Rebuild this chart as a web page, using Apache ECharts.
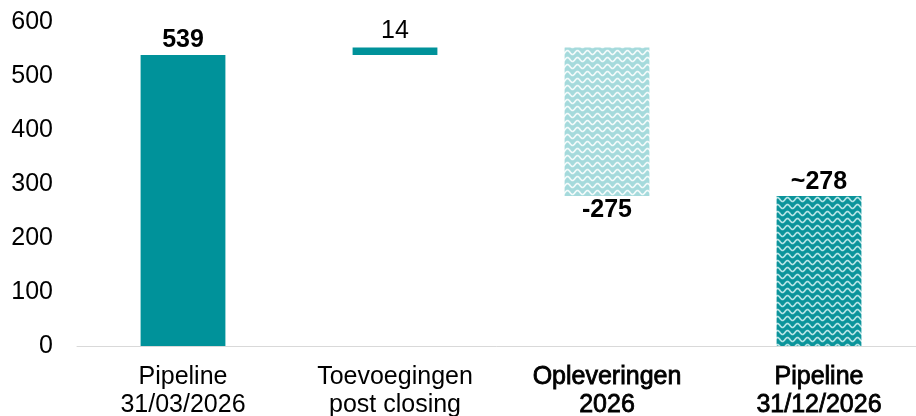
<!DOCTYPE html>
<html>
<head>
<meta charset="utf-8">
<script src="https://cdn.jsdelivr.net/npm/echarts@6/dist/echarts.min.js"></script>
<style>
  html, body { margin: 0; padding: 0; background: #fff; }
  #chart { width: 916px; height: 416px; }
</style>
</head>
<body>
<div id="chart"></div>
<script>
// categories on the x axis
var categories = ['Pipeline\n31/03/2026', 'Toevoegingen\npost closing', 'Opleveringen\n2026', 'Pipeline\n31/12/2026'];
// waterfall steps: start, addition, delivery, end
var stepValues = [539, 14, -275, 278];
// which bars are totals (drawn from zero)
var isTotal = [true, false, false, true];
var labelTexts = ['539', '14', '-275', '~278'];
var yTicks = [0, 100, 200, 300, 400, 500, 600];

var TEAL = '#00929A';
var FONT = '"Liberation Sans", Arial, sans-serif';

// wavy pattern tile
function waveTile(bg, fg) {
  var c = document.createElement('canvas');
  c.width = 10; c.height = 7;
  var ctx = c.getContext('2d');
  ctx.fillStyle = bg;
  ctx.fillRect(0, 0, 10, 7);
  ctx.strokeStyle = fg;
  ctx.lineWidth = 1.6;
  ctx.beginPath();
  for (var x = -1; x <= 11; x += 0.5) {
    var y = 3.5 + 2 * Math.sin(x / 10 * Math.PI * 2);
    if (x === -1) ctx.moveTo(x, y); else ctx.lineTo(x, y);
  }
  ctx.stroke();
  return c;
}
var lightPattern = { image: waveTile('#A5DADC', '#F2FAFA'), repeat: 'repeat' };
var darkPattern = { image: waveTile('#0B949B', '#B8E4E6'), repeat: 'repeat' };
var fills = [TEAL, TEAL, lightPattern, darkPattern];
var labelGap = [2, 4, 2, 1];

// invisible base + visible bar
var baseData = [], barData = [];
var running = 0;
stepValues.forEach(function (v, i) {
  var base, h;
  if (isTotal[i]) { base = 0; h = v; running = v; }
  else if (v >= 0) { base = running; h = v; running += v; }
  else { running += v; base = running; h = -v; }
  baseData.push(base);
  barData.push({
    value: h,
    itemStyle: { color: fills[i] },
    label: {
      position: v < 0 ? 'bottom' : 'top',
      fontWeight: i === 1 ? 'normal' : 'bold',
      distance: labelGap[i]
    }
  });
});

var myChart = echarts.init(document.getElementById('chart'));
var option = {
  animation: false,
  grid: { left: 77, right: -9, top: 22, bottom: 70, outerBoundsMode: 'none', containLabel: false },
  xAxis: {
    type: 'category',
    data: categories,
    axisLine: { lineStyle: { color: '#D9D9D9', width: 1 } },
    axisTick: { show: false },
    axisLabel: {
      interval: 0,
      margin: 17,
      color: '#000',
      fontFamily: FONT,
      fontSize: 25,
      lineHeight: 28,
      formatter: function (val, idx) {
        return idx >= 2 ? val.split('\n').map(function (s) { return '{b|' + s + '}'; }).join('\n') : val;
      },
      rich: {
        b: { fontFamily: FONT, fontSize: 25, lineHeight: 28, color: '#000', textBorderColor: '#000', textBorderWidth: 0.8 }
      }
    }
  },
  yAxis: {
    type: 'value',
    min: yTicks[0],
    max: yTicks[yTicks.length - 1],
    interval: 100,
    axisLine: { show: false },
    axisTick: { show: false },
    splitLine: { show: false },
    axisLabel: { color: '#000', fontFamily: FONT, fontSize: 25, margin: 24 }
  },
  series: [
    {
      type: 'bar',
      stack: 'wf',
      data: baseData,
      itemStyle: { color: 'transparent' },
      silent: true,
      barWidth: '40%'
    },
    {
      type: 'bar',
      stack: 'wf',
      data: barData,
      barWidth: '40%',
      label: {
        show: true,
        color: '#000',
        fontFamily: FONT,
        fontSize: 25,
        formatter: function (p) { return labelTexts[p.dataIndex]; }
      }
    }
  ]
};
option && myChart.setOption(option);
</script>
</body>
</html>
